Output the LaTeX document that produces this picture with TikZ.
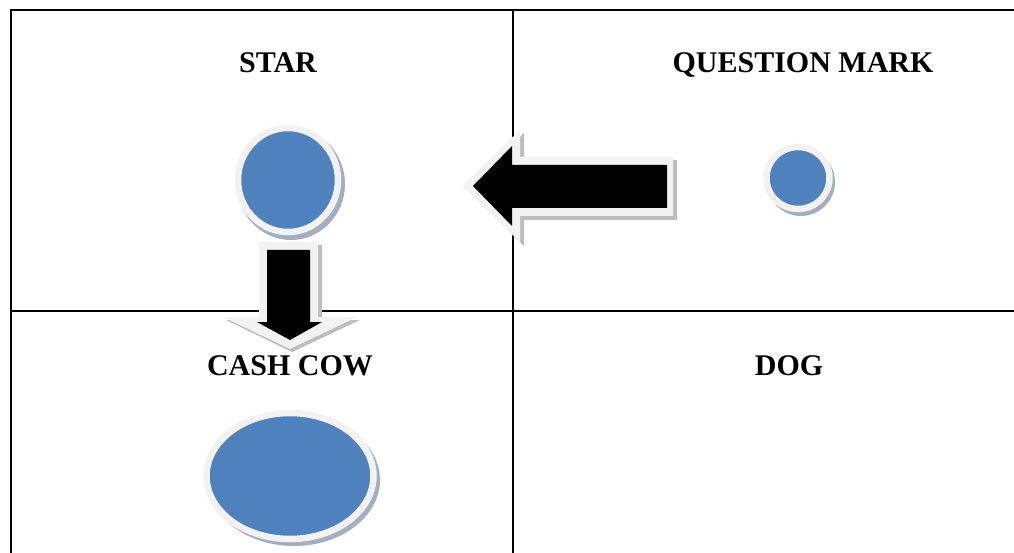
\documentclass[tikz,border=0pt]{standalone}
\usepackage{fontspec}
\setmainfont{Liberation Serif}
\usetikzlibrary{shapes.geometric}
\definecolor{bblue}{HTML}{4F81BD}
\definecolor{rim}{HTML}{F2F2F2}
\definecolor{shad}{HTML}{A3AEBE}
\definecolor{arrshad}{HTML}{BDBDBD}
\tikzset{
  grid/.style={line width=1.2pt, black},
  title/.style={font=\fontsize{30}{32}\selectfont\bfseries, inner sep=0pt, anchor=base},
  blob/.style={ellipse, fill=bblue, draw=rim, line width=6.5pt, inner sep=0pt},
  blobshadow/.style={ellipse, fill=shad, inner sep=0pt},
  arrowout/.style={fill=rim},
  arrowshadow/.style={fill=arrshad},
}
\begin{document}
\begin{tikzpicture}[x=1pt,y=-1pt]
\useasboundingbox (0,0) rectangle (1014,553);
% grid
\draw[grid] (11,553) -- (11,10) -- (1014,10);
\draw[grid] (513,10) -- (513,553);
\draw[grid] (11,311) -- (1014,311);
% titles
\node[title] (tstar) at (278,73) {STAR};
\node[title] (tqm) at (803,73) {QUESTION MARK};
\node[title] (tcc) at (290,375) {CASH COW};
\node[title] (tdog) at (789,375) {DOG};
% star circle
\node[blobshadow, minimum width=108pt, minimum height=112pt] (sstar) at (291,184) {};
\node[blob, minimum width=100pt, minimum height=104pt] (star) at (288,180) {};
% question mark circle
\node[blobshadow, minimum width=68pt, minimum height=68pt] (sqm) at (801,182) {};
\node[blob, minimum width=63pt, minimum height=62pt] (qm) at (798,178) {};
% cash cow ellipse
\node[blobshadow, minimum width=172pt, minimum height=132pt] (scc) at (294,480) {};
\node[blob, minimum width=167pt, minimum height=126pt] (cc) at (290,476) {};
% left arrow (question mark -> star)
\fill[arrowshadow] (466,189) -- (524,133) -- (524,160) -- (677,160) -- (677,220) -- (524,220) -- (524,246) -- cycle;
\fill[arrowout] (462,186) -- (520,130) -- (520,157) -- (673,157) -- (673,216) -- (520,216) -- (520,242) -- cycle;
\fill[black] (473,186) -- (512,146) -- (512,165) -- (667,165) -- (667,208) -- (512,208) -- (512,226) -- cycle;
% down arrow (star -> cash cow)
\fill[arrowshadow] (262,245) -- (322,245) -- (322,320) -- (360,320) -- (292,352) -- (226,320) -- (262,320) -- cycle;
\fill[arrowout] (259,242) -- (318,242) -- (318,317) -- (357,317) -- (290,349) -- (223,317) -- (259,317) -- cycle;
\fill[black] (267,250) -- (310,250) -- (310,322) -- (322,322) -- (290,340) -- (257,322) -- (267,322) -- cycle;
\end{tikzpicture}
\end{document}
